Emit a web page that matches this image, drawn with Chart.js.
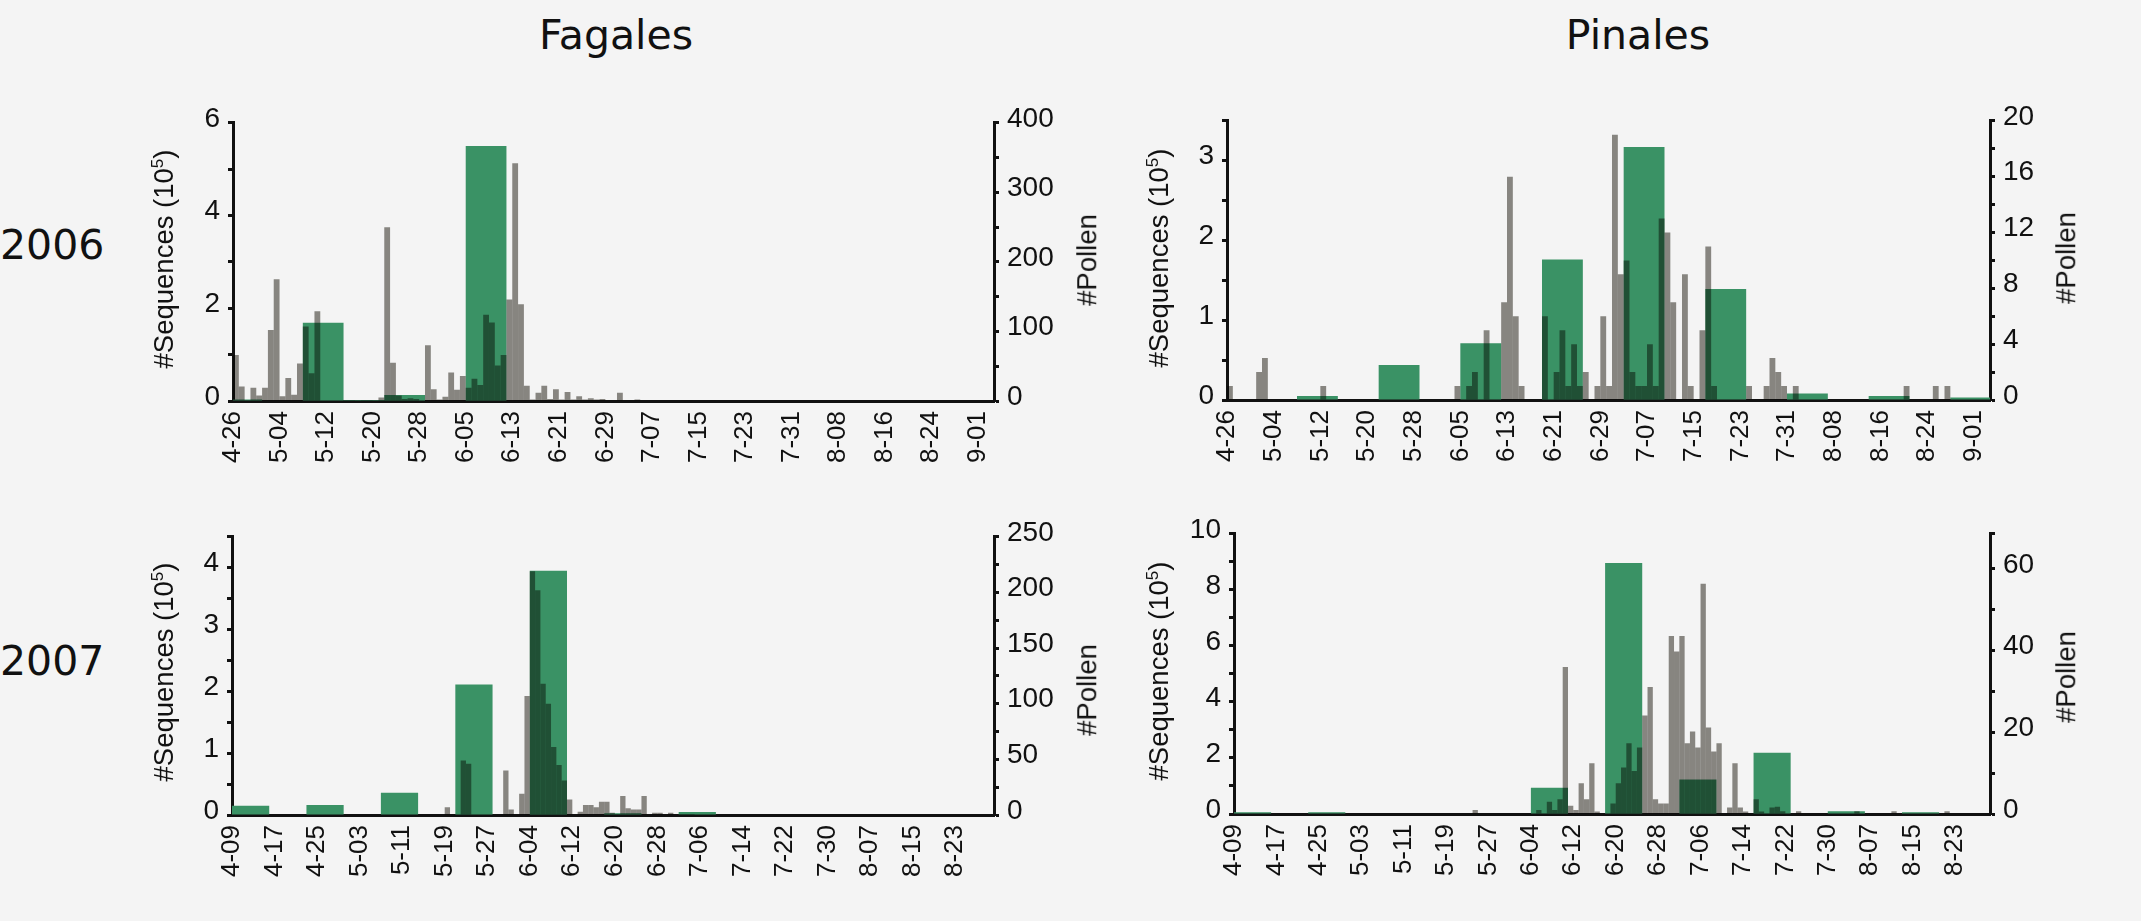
<!DOCTYPE html>
<html><head><meta charset="utf-8">
<script src="https://cdn.jsdelivr.net/npm/chart.js@4.4.1/dist/chart.umd.min.js"></script>
<style>
html,body{margin:0;padding:0;background:#f4f4f4;width:2141px;height:921px;overflow:hidden;position:relative;}
canvas{position:absolute;z-index:1;}
.hdr{position:absolute;z-index:2;font-family:'DejaVu Sans',sans-serif;font-size:41px;line-height:1;color:#111;white-space:nowrap;transform:translateX(-50%);}
.yr{position:absolute;z-index:2;font-family:'DejaVu Sans',sans-serif;font-size:41px;line-height:1;color:#111;white-space:nowrap;}
.ttl{position:absolute;z-index:2;font-family:'Liberation Sans',Arial,sans-serif;font-size:27.5px;line-height:1;color:#111;white-space:nowrap;transform:translate(-50%,-50%) rotate(-90deg);}
.ttl sup{font-size:62%;vertical-align:0.6em;line-height:0;}
</style></head><body>
<div class="hdr" style="left:616px;top:15px;">Fagales</div>
<div class="hdr" style="left:1638px;top:15px;">Pinales</div>
<div class="yr" style="left:0px;top:225px;">2006</div>
<div class="yr" style="left:0px;top:641px;">2007</div>
<div class="ttl" style="left:164px;top:259px;">#Sequences (10<sup>5</sup>)</div>
<div class="ttl" style="left:1087px;top:260px;">#Pollen</div>
<div class="ttl" style="left:1159px;top:258px;">#Sequences (10<sup>5</sup>)</div>
<div class="ttl" style="left:2066px;top:258px;">#Pollen</div>
<div class="ttl" style="left:164px;top:672px;">#Sequences (10<sup>5</sup>)</div>
<div class="ttl" style="left:1087px;top:690px;">#Pollen</div>
<div class="ttl" style="left:1159px;top:671px;">#Sequences (10<sup>5</sup>)</div>
<div class="ttl" style="left:2066px;top:677px;">#Pollen</div>
<script>
// ---------- tick labels ----------
const dateLabels2006 = ['4-26','5-04','5-12','5-20','5-28','6-05','6-13','6-21','6-29','7-07','7-15','7-23','7-31','8-08','8-16','8-24','9-01'];
const dateLabels2007 = ['4-09','4-17','4-25','5-03','5-11','5-19','5-27','6-04','6-12','6-20','6-28','7-06','7-14','7-22','7-30','8-07','8-15','8-23'];

// ---------- Fagales 2006 ----------
const pollenFagales2006 = [66,21,1,19,8,19,102,175,7,33, 9,54,107,40,129,0,0,0,0,1, 1,0,1,1,0,5,250,55,8,3,
  4,3,0,80,17,2,6,41,16,36, 19,32,23,124,113,51,66,146,342,139, 22,2,12,22,3,17,2,13,2,7,
  2,4,2,3,1,1,12,1,1,2, 0,0,0,0,0,0,0,1,1,0, 0,0,1];
const seqFagales2006 = [0.03,0,1.69,0.02,0.13,0,5.5,0,0,0,0,0.01];
const seqTicksFagales2006 = [0,2,4,6];
const pollenTicksFagales2006 = [0,100,200,300,400];

// ---------- Pinales 2006 ----------
const pollenPinales2006 = [1,0,0,0,0,2,3,0,0,0, 0,0,0,0,0,0,1,0,0,0, 0,0,0,0,0,0,0,0,0,0, 0,0,0,0,0,0,0,0,0,1,
  0,1,2,0,5,0,0,7,16,6, 1,0,0,0,6,0,2,5,1,4, 1,2,0,1,6,1,19,9,10,2, 1,1,4,1,13,12,7,0,9,1,
  0,5,11,1,0,0,0,0,0,1, 0,0,1,3,2,1,0,1,0,0, 0,0,0,0,0,0,0,0,0,0, 0,0,0,0,0,0,1,0,0,0, 0,1,0,1];
const seqPinales2006 = [0,0,0.05,0,0.44,0,0.71,0,1.76,0,3.17,0,1.39,0,0.08,0,0.05,0,0.03];
const seqTicksPinales2006 = [0,1,2,3];
const pollenTicksPinales2006 = [0,4,8,12,16,20];

// ---------- Fagales 2007 ----------
const pollenFagales2007 = [0,0,0,0,0,0,0,0,0,0, 0,0,0,0,0,0,0,0,0,0, 0,0,0,0,0,0,0,0,0,0, 0,0,0,0,0,0,0,0,0,0,
  7,0,0,49,46,0,0,0,0,0, 0,40,5,0,19,107,219,202,118,100, 61,45,31,14,0,3,9,9,7,12,
  12,2,1,17,6,5,5,17,0,2, 2,0,2,0,1,1,1];
const seqFagales2007 = [0.15,0,0.16,0,0.36,0,2.11,0,3.95,0,0.03,0,0.05];
const seqTicksFagales2007 = [0,1,2,3,4];
const pollenTicksFagales2007 = [0,50,100,150,200,250];

// ---------- Pinales 2007 ----------
const pollenPinales2007 = [0,0,0,0,0,0,0,0,0,0, 0,0,0,0,0,0,0,0,0,0, 0,0,0,0,0,0,0,0,0,0, 0,0,0,0,0,0,0,0,0,0,
  0,0,0,0,0,1,0,0,0,0, 0,0,0,0,0,0,0,1,0,3, 1,3.6,36,2,1,7.5,3.6,12.4,0.6,0,
  0,2.6,7.5,11.4,17.3,10.5,16.3,24.1,31.1,3.6, 2.6,2.6,43.6,39.8,43.6,17.3,20.2,16.3,56.4,21.2,
  15.3,17.3,0,1.6,12.4,1.6,0.6,0,3.6,0.6, 0,1.6,1.8,0.7,0,0,0.7,0,0,0, 0,0,0,0,0,0,0,0.7,0,0,
  0,0,0,0,0.7,0,0,0,0,0, 0,0,0,0,0.7];
const seqPinales2007 = [0.06,0,0.06,0,0,0,0,0,0.94,0,8.96,0,1.23,0,2.19,0,0.1,0,0.06];
const seqTicksPinales2007 = [0,2,4,6,8,10];
const pollenTicksPinales2007 = [0,20,40,60];

// ---------- styling ----------
const GREEN = 'rgb(58,146,101)';
const GREY = 'rgb(141,139,134)';
const INK = '#111111';
const BG = '#f4f4f4';
const XFONT = {family:"'Liberation Sans', Arial, sans-serif", size:26};
const YFONT = {family:"'Liberation Sans', Arial, sans-serif", size:28};

const bgPlugin = {
  id:'bg',
  beforeDraw(chart){ const c=chart.ctx; c.save(); c.fillStyle=BG; c.fillRect(0,0,chart.width,chart.height); c.restore(); },
  beforeDatasetDraw(chart,args){ if(chart.data.datasets[args.index].multiply){ chart.ctx.save(); chart.ctx.globalCompositeOperation='multiply'; } },
  afterDatasetDraw(chart,args){ if(chart.data.datasets[args.index].multiply){ chart.ctx.restore(); } }
};

function stepTicks(max, step){
  const t=[]; for(let i=0; i*step<=max+1e-9; i++) t.push({value:+(i*step).toFixed(4)});
  if(Math.abs(t[t.length-1].value-max)>1e-6) t.push({value:max});
  return t;
}

function yAxis(pos, max, step, labels){
  return {
    type:'linear', position:pos, min:0, max:max,
    afterBuildTicks:(s)=>{ s.ticks = stepTicks(max, step); },
    afterFit:(s)=>{ s.width = 100; },
    ticks:{padding:8, font:YFONT, color:INK, autoSkip:false, labelOffset:-4,
      callback:(v)=> labels.includes(+(+v).toFixed(4)) ? String(v) : ''},
    grid:{display:true, drawOnChartArea:false, drawTicks:true, tickLength:5, tickWidth:3, tickColor:INK},
    border:{display:true, color:INK, width:3}
  };
}

function makePanel(p){
  const cl=p.L-100, ct=p.T-20, W=p.R-p.L+200, H=p.B-p.T+100;
  const cv=document.createElement('canvas');
  cv.width=W; cv.height=H;
  cv.style.left=cl+'px'; cv.style.top=ct+'px'; cv.style.width=W+'px'; cv.style.height=H+'px';
  document.body.appendChild(cv);
  const greyPts = p.pollen.map((v,i)=>({x:i+0.5, y:v}));
  const greenPts = p.seq.map((v,k)=>({x:p.weekStart+7*k+3.5, y:v}));
  new Chart(cv, {
    type:'bar',
    data:{datasets:[
      {data:greyPts, xAxisID:'x', yAxisID:'yP', backgroundColor:GREY, borderWidth:0, order:1, multiply:true,
       barPercentage:1, categoryPercentage:1, grouped:false, inflateAmount:0, clip:0},
      {data:greenPts, xAxisID:'x2', yAxisID:'yS', backgroundColor:GREEN, borderWidth:0, order:2,
       barPercentage:1, categoryPercentage:1, grouped:false, inflateAmount:0, clip:0}
    ]},
    options:{
      responsive:false, animation:false, events:[], devicePixelRatio:1,
      layout:{padding:{top:20,left:0,right:0,bottom:0}},
      plugins:{legend:{display:false}, tooltip:{enabled:false}},
      scales:{
        x:{type:'linear', position:'bottom', min:0, max:p.xMax, offset:false,
          afterBuildTicks:(s)=>{ s.ticks = p.labels.map((l,i)=>({value:i*8})); },
          afterFit:(s)=>{ s.height = 80; },
          ticks:{autoSkip:false, maxRotation:90, minRotation:90, padding:10, font:XFONT, color:INK,
            callback:(v,i)=>p.labels[i]},
          grid:{display:false, drawTicks:false},
          border:{display:true, color:INK, width:3}},
        x2:{type:'linear', display:false, min:0, max:p.xMax, offset:false,
          afterBuildTicks:(s)=>{ s.ticks=[{value:0},{value:p.xMax}]; }},
        yS: yAxis('left', p.sMax, p.sStep, p.sLabels),
        yP: yAxis('right', p.pMax, p.pStep, p.pLabels)
      }
    },
    plugins:[bgPlugin]
  });
}

makePanel({L:233,R:994,T:118,B:401, xMax:130.8, labels:dateLabels2006, weekStart:-2,
  pollen:pollenFagales2006, seq:seqFagales2006, sMax:6, sStep:1, sLabels:seqTicksFagales2006,
  pMax:400, pStep:50, pLabels:pollenTicksFagales2006});
makePanel({L:1227,R:1990,T:116,B:400, xMax:130.8, labels:dateLabels2006, weekStart:-2,
  pollen:pollenPinales2006, seq:seqPinales2006, sMax:3.5, sStep:0.5, sLabels:seqTicksPinales2006,
  pMax:20, pStep:2, pLabels:pollenTicksPinales2006});
makePanel({L:232,R:994,T:532,B:815, xMax:143.3, labels:dateLabels2007, weekStart:0,
  pollen:pollenFagales2007, seq:seqFagales2007, sMax:4.5, sStep:0.5, sLabels:seqTicksFagales2007,
  pMax:250, pStep:25, pLabels:pollenTicksFagales2007});
makePanel({L:1234,R:1990,T:529,B:814, xMax:142.6, labels:dateLabels2007, weekStart:0,
  pollen:pollenPinales2007, seq:seqPinales2007, sMax:10, sStep:1, sLabels:seqTicksPinales2007,
  pMax:68.6, pStep:10, pLabels:pollenTicksPinales2007});
</script>
</body></html>
